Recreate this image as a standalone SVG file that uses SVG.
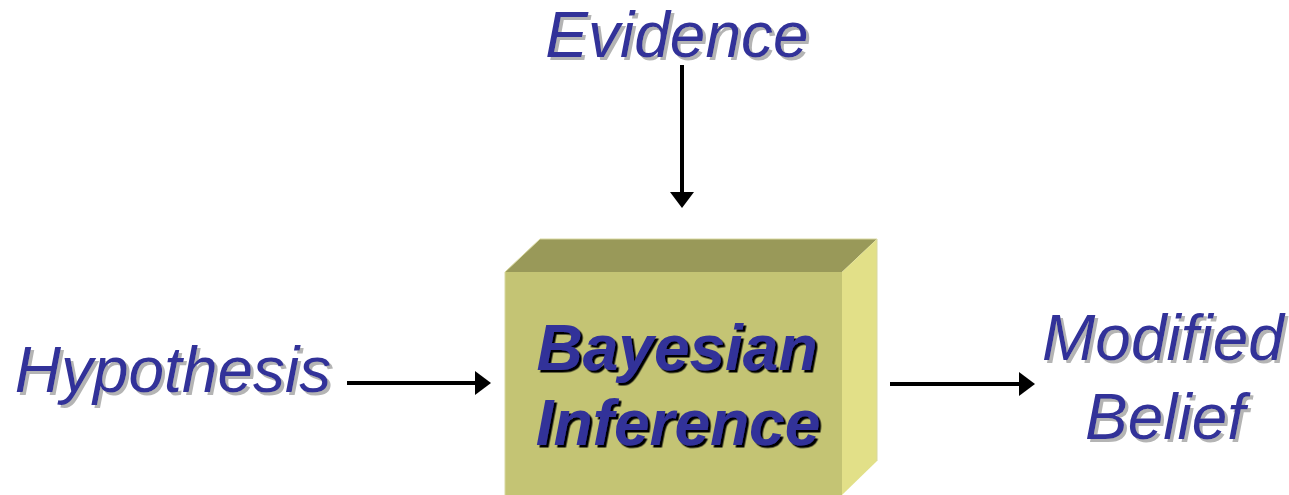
<svg xmlns="http://www.w3.org/2000/svg" width="1289" height="495" viewBox="0 0 1289 495">
<defs>
<style>
.lbl{font-family:"Liberation Sans",Arial,sans-serif;font-style:italic;font-size:64px;fill:#333399;filter:url(#gs)}
.in{font-family:"Liberation Sans",Arial,sans-serif;font-style:italic;font-weight:bold;font-size:64px;fill:#333399;filter:url(#bs)}
.con{stroke:#000;stroke-width:4;fill:none}
</style>
<filter id="gs" x="-10%" y="-20%" width="120%" height="140%">
<feDropShadow dx="3" dy="3" stdDeviation="0.3" flood-color="#b4b4b4" flood-opacity="1"/>
</filter>
<filter id="bs" x="-10%" y="-20%" width="120%" height="140%">
<feDropShadow dx="2.5" dy="2.5" stdDeviation="0.2" flood-color="#000" flood-opacity="1"/>
</filter>
<marker id="ah" viewBox="0 0 16 24" refX="0" refY="12" markerWidth="16" markerHeight="24" markerUnits="userSpaceOnUse" orient="auto">
<path d="M0,0 L16,12 L0,24 Z" fill="#000"/>
</marker>
</defs>
<rect width="1289" height="495" fill="#fff"/>
<g id="box">
<polygon points="505,272 540,239 877,239 842,272" fill="#999959"/>
<polygon points="842,272 877,239 877,461 842,495" fill="#e2e088"/>
<rect x="505" y="272" width="337" height="223" fill="#c4c474"/>
<polyline points="505,495 505,272 540,239 877,239 877,461" fill="none" stroke="#d8d8a0" stroke-width="1"/>
<text class="in" x="677" y="370" text-anchor="middle">Bayesian</text>
<text class="in" x="678" y="445" text-anchor="middle">Inference</text>
</g>
<g id="evidence">
<text class="lbl" x="677" y="57" text-anchor="middle">Evidence</text>
</g>
<g id="hypothesis">
<text class="lbl" x="173" y="392" text-anchor="middle">Hypothesis</text>
</g>
<g id="modified">
<text class="lbl" x="1163" y="360" text-anchor="middle">Modified</text>
<text class="lbl" x="1165" y="439" text-anchor="middle">Belief</text>
</g>
<g id="connectors">
<line class="con" x1="682" y1="65" x2="682" y2="192" marker-end="url(#ah)"/>
<line class="con" x1="347" y1="383" x2="475" y2="383" marker-end="url(#ah)"/>
<line class="con" x1="890" y1="384" x2="1019" y2="384" marker-end="url(#ah)"/>
</g>
</svg>
